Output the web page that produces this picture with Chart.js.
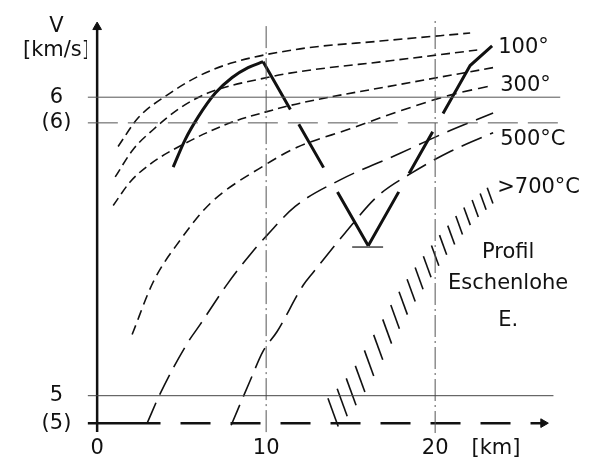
<!DOCTYPE html>
<html><head><meta charset="utf-8">
<script src="https://cdn.jsdelivr.net/npm/chart.js@4/dist/chart.umd.min.js"></script>
<style>html,body{margin:0;padding:0;background:#fff}#wrap{width:589px;height:459px}</style>
</head><body><div id="wrap"><canvas id="c" width="589" height="459"></canvas></div>
<script>
// ---- data (x = distance along profile [km], y = velocity V [km/s]) ----
const xTickValues = [0, 10, 20, 23.6];
const xTickLabels = ['0', '10', '20', '[km]'];
const yTickValues = [4.908, 5, 5.914, 6, 6.155, 6.238];
const yTickLabels = ['(5)', '5', '(6)', '6', '[km/s]', 'V'];

// isotherm curves: two curves per temperature (scale 6 and scale (6))
const iso100a = [[1.24,5.835],[2.43,5.931],[4.14,6.007],[6.09,6.073],[8.05,6.116],[12.01,6.162],[16.75,6.188],[22.07,6.215]];
const iso100b = [[1.07,5.733],[2.13,5.825],[3.31,5.891],[4.91,5.964],[6.51,6.013],[10.06,6.066],[12.01,6.086],[17.34,6.122],[22.49,6.158]];
const iso300a = [[0.95,5.637],[1.95,5.716],[3.14,5.776],[5.09,5.842],[7.87,5.914],[9.94,5.950],[12.01,5.980],[17.93,6.043],[23.43,6.099]];
const iso300b = [[2.07,5.205],[3.31,5.380],[4.91,5.521],[6.69,5.644],[9.82,5.769],[11.83,5.832],[14.97,5.894],[17.93,5.954],[20.89,6.007],[23.43,6.040]];
const iso500a = [[2.96,4.908],[3.73,5.007],[5.33,5.175],[6.09,5.238],[7.69,5.373],[9.23,5.485],[10.06,5.538],[11.72,5.634],[14.38,5.723],[17.93,5.812],[20.47,5.878],[23.43,5.947]];
const iso500b = [[7.93,4.901],[9.05,5.050],[9.82,5.149],[10.65,5.215],[12.19,5.370],[12.78,5.413],[14.67,5.545],[16.57,5.667],[18.52,5.743],[20.89,5.818],[23.43,5.881]];
// >700°C hatched band (hatch strokes)
const iso700band = [[13.96,4.944],[14.50,4.977],[15.03,5.013],[15.56,5.056],[16.09,5.109],[16.63,5.162],[17.16,5.215],[17.63,5.264],[18.11,5.310],[18.58,5.353],[19.05,5.393],[19.53,5.432],[20.00,5.469],[20.47,5.505],[20.95,5.538],[21.42,5.571],[21.89,5.601],[22.37,5.627],[22.84,5.650],[23.25,5.670]];

// observed profile Eschenlohe
const profileSolid = [[4.50,5.766],[5.21,5.858],[5.98,5.934],[6.98,6.013],[7.99,6.066],[8.93,6.099],[9.82,6.119]];
const profileDown = [[9.82,6.119],[16.04,5.502]];
const profileUp = [[16.04,5.502],[22.07,6.106],[23.37,6.172]];
const profileBase = [[15.09,5.498],[16.92,5.498]];

// reference lines
const refLine6 = [[-0.55,6],[27.4,6]];
const refLine6p = [[-0.55,5.914],[27.4,5.914]];
const refLine5 = [[-0.55,5],[27.0,5]];
const xAxisSolid = [[-0.55,4.908],[3.75,4.908]];
const xAxisDashed = [[3.75,4.908],[26.4,4.908]];
const yAxisLine = [[0,4.878],[0,6.235]];
const vLine10 = [[10,4.878],[10,6.24]];
const vLine20 = [[20,4.875],[20,6.265]];

// annotations
const labelTexts = ['100°', '300°', '500°C', '>700°C', 'Profil', 'Eschenlohe', 'E.'];
const labelAnchors = [[23.73,6.165],[23.85,6.040],[23.85,5.858],[23.67,5.696],[24.32,5.479],[24.32,5.376],[24.32,5.251]];
const labelAligns = ['left','left','left','left','center','center','center'];

const pts = a => a.map(p => ({x: p[0], y: p[1]}));
const FONT = 'DejaVu Sans';
const INK = '#111';

function line(data, opt) {
  return Object.assign({
    data: pts(data), showLine: true, borderColor: INK, backgroundColor: INK,
    borderWidth: 1.6, pointRadius: 0, tension: 0, clip: false, fill: false
  }, opt);
}

const datasets = [
  line(refLine6, {borderWidth: 1, borderColor: '#555'}),
  line(refLine6p, {borderWidth: 1, borderColor: '#555', borderDash: [30, 10]}),
  line(refLine5, {borderWidth: 1, borderColor: '#444'}),
  line(vLine10, {borderWidth: 1, borderColor: '#555', borderDash: [22, 4, 2, 4]}),
  line(vLine20, {borderWidth: 1, borderColor: '#555', borderDash: [22, 4, 2, 4]}),
  line(yAxisLine, {borderWidth: 2.5, pointStyle: 'triangle', pointRadius: [0, 5], pointBorderWidth: 1}),
  line(xAxisSolid, {borderWidth: 2.5}),
  line(xAxisDashed, {borderWidth: 2.5, borderDash: [30, 20], borderDashOffset: 30,
       pointStyle: 'triangle', pointRotation: 90, pointRadius: [0, 5], pointBorderWidth: 1}),
  line(iso100a, {borderDash: [9, 5], cubicInterpolationMode: 'monotone'}),
  line(iso100b, {borderDash: [9, 5], cubicInterpolationMode: 'monotone'}),
  line(iso300a, {borderDash: [9, 5], cubicInterpolationMode: 'monotone'}),
  line(iso300b, {borderDash: [10, 6], cubicInterpolationMode: 'monotone'}),
  line(iso500a, {borderDash: [22, 9], cubicInterpolationMode: 'monotone'}),
  line(iso500b, {borderDash: [22, 9], cubicInterpolationMode: 'monotone'}),
  {
    data: pts(iso700band), showLine: false, clip: false,
    pointStyle: 'line', pointRotation: 70, borderColor: INK, pointBorderColor: INK,
    pointBorderWidth: 1.6,
    pointRadius: ctx => 15 - ctx.dataIndex * 0.35
  },
  line(profileSolid, {borderWidth: 3, cubicInterpolationMode: 'monotone'}),
  line(profileDown, {borderWidth: 3, borderDash: [55, 17, 50, 28, 80, 10]}),
  line(profileUp, {borderWidth: 3, borderDash: [62, 21, 48, 21, 130, 10]}),
  line(profileBase, {borderWidth: 1.2})
];

const textPlugin = {
  id: 'texts',
  afterDatasetsDraw(chart) {
    const {ctx, scales: {x, y}} = chart;
    ctx.save();
    ctx.fillStyle = INK;
    ctx.font = '21px "' + FONT + '"';
    ctx.textBaseline = 'middle';
    labelTexts.forEach((t, i) => {
      ctx.textAlign = labelAligns[i];
      ctx.fillText(t, x.getPixelForValue(labelAnchors[i][0]), y.getPixelForValue(labelAnchors[i][1]));
    });
    ctx.restore();
  }
};

new Chart(document.getElementById('c'), {
  type: 'scatter',
  data: {datasets},
  plugins: [textPlugin],
  options: {
    responsive: false,
    animation: false,
    devicePixelRatio: 1,
    layout: {padding: {top: 10, right: 25.4, left: 0, bottom: 0}},
    plugins: {legend: {display: false}, tooltip: {enabled: false}},
    scales: {
      x: {
        type: 'linear', min: -0.6, max: 27.6,
        grid: {display: false, drawTicks: false}, border: {display: false},
        afterBuildTicks: s => { s.ticks = xTickValues.map(v => ({value: v})); },
        afterFit: s => { s.height = 26; s.paddingLeft = 0; s.paddingRight = 0; },
        ticks: {
          autoSkip: false, maxRotation: 0, padding: 3, color: INK,
          font: {family: FONT, size: 21},
          callback: (v, i) => xTickLabels[i]
        }
      },
      y: {
        type: 'linear', min: 4.875, max: 6.27,
        grid: {display: false, drawTicks: false}, border: {display: false},
        afterBuildTicks: s => { s.ticks = yTickValues.map(v => ({value: v})); },
        afterFit: s => { s.width = 87; s.paddingTop = 0; s.paddingBottom = 0; },
        ticks: {
          autoSkip: false, crossAlign: 'center', padding: -3, color: INK,
          font: {family: FONT, size: 21},
          callback: (v, i) => yTickLabels[i]
        }
      }
    }
  }
});
</script>
</body></html>
